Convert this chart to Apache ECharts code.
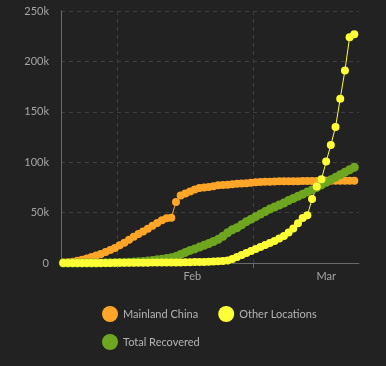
<!DOCTYPE html>
<html>
<head>
<meta charset="utf-8">
<script src="https://cdn.jsdelivr.net/npm/echarts@6/dist/echarts.min.js"></script>
<style>
  html, body { margin: 0; padding: 0; background: #222222; }
  #chart { width: 386px; height: 366px; }
</style>
</head>
<body>
<div id="chart"></div>
<script>
// Days (values plotted at noon of each day)
const days = [
  '2020-01-20','2020-01-21','2020-01-22','2020-01-23','2020-01-24','2020-01-25','2020-01-26','2020-01-27','2020-01-28','2020-01-29','2020-01-30','2020-01-31',
  '2020-02-01','2020-02-02','2020-02-03','2020-02-04','2020-02-05','2020-02-06','2020-02-07','2020-02-08','2020-02-09','2020-02-10',
  '2020-02-11','2020-02-12','2020-02-13','2020-02-14','2020-02-15','2020-02-16','2020-02-17','2020-02-18','2020-02-19','2020-02-20',
  '2020-02-21','2020-02-22','2020-02-23','2020-02-24','2020-02-25','2020-02-26','2020-02-27','2020-02-28','2020-02-29',
  '2020-03-01','2020-03-02','2020-03-03','2020-03-04','2020-03-05','2020-03-06','2020-03-07','2020-03-08','2020-03-09','2020-03-10',
  '2020-03-11','2020-03-12','2020-03-13','2020-03-14','2020-03-15','2020-03-16','2020-03-17','2020-03-18','2020-03-19','2020-03-20',
  '2020-03-21','2020-03-22'
];

const mainlandChina = [
  400, 800, 1300, 2200, 3200, 4500, 6000, 7500, 9000, 10800, 12800, 15000,
  17500, 20000, 23000, 26000, 28800, 31300, 34000, 37000, 39700, 42300, 44300, 45000, 60500,
  67000, 69000, 71000, 73000, 74500, 75000, 75500, 76200, 77200, 77400, 77700, 78100, 78500, 78900, 79200, 79600,
  80200, 80400, 80500, 80700, 80900, 81000, 81100, 81100, 81200, 81200, 81300,
  81300, 81300, 81400, 81400, 81500, 81500, 81500, 81600, 81600, 81700, 81700
];

const otherLocations = [
  0, 0, 0, 0, 0, 50, 50, 50, 100, 100, 100, 150,
  150, 200, 200, 200, 300, 300, 300, 400, 400, 400, 500, 500, 500,
  600, 700, 800, 900, 1000, 1100, 1300, 1500, 1800, 2100,
  2600, 4000, 6000, 8000, 10000, 12000,
  14000, 15800, 17800, 19800, 21800, 24200, 26800, 30200, 34200, 39500,
  44700, 47300, 63500, 76000, 83000, 100600, 117000, 135000, 163000, 191000,
  224000, 227000
];

const totalRecovered = [
  0, 0, 0, 0, 0, 0, 50, 50, 100, 150, 200, 250,
  500, 600, 800, 1000, 1300, 1600, 2100, 2600, 3200, 3800, 4500, 5200, 6400,
  8500, 10500, 12500, 14000, 15800, 17500, 19300, 21300, 23500, 26500,
  30000, 33000, 35000, 38000, 41000, 43500,
  46000, 48500, 51000, 53500, 55500, 57500, 59500, 62000, 64000, 66200,
  68300, 70500, 72500, 75000, 77500, 80000, 82500, 85000, 87500, 90000,
  92500, 95000
];

// Axis ticks / labels
const monthStarts = ['2020-02-01T00:00:00Z', '2020-03-01T00:00:00Z'];
const monthLabelDates = ['2020-02-17T00:00:00Z', '2020-03-16T12:00:00Z'];
const monthLabels = ['Feb', 'Mar'];
const yTickValues = [0, 50000, 100000, 150000, 200000, 250000];
const yTickLabels = ['0', '50k', '100k', '150k', '200k', '250k'];

const axisStart = '2020-01-20T00:00:00Z';
const axisEnd = '2020-03-23T12:00:00Z';

// x positions are measured in days from axisStart
const DAY = 86400000;
const dayPos = s => (new Date(s).getTime() - new Date(axisStart).getTime()) / DAY;
const pts = vals => days.map((d, i) => [dayPos(d + 'T12:00:00Z'), vals[i]]);
const tickPos = monthStarts.map(dayPos);
const labelPos = monthLabelDates.map(dayPos);

const C_ORANGE = '#ffa629';
const C_YELLOW = '#ffff36';
const C_GREEN = '#6ea71f';
const FONT = 'Lato';

const chart = echarts.init(document.getElementById('chart'), null, { renderer: 'canvas' });

function lineSeries(name, vals, color, size) {
  return {
    name: name,
    type: 'line',
    data: pts(vals),
    symbol: 'circle',
    symbolSize: size,
    showSymbol: true,
    showAllSymbol: true,
    lineStyle: { color: color, width: 1 },
    itemStyle: { color: color, borderWidth: 0 },
    emphasis: { disabled: true },
    animation: false
  };
}

chart.setOption({
  backgroundColor: '#222222',
  animation: false,
  textStyle: { fontFamily: FONT },
  grid: { left: 61, right: 27, top: 11, bottom: 103, containLabel: false },
  legend: [
    {
      data: ['Mainland China', 'Other Locations'],
      left: 102, top: 306, padding: 0,
      orient: 'horizontal',
      icon: 'circle', itemWidth: 16, itemHeight: 16, itemGap: 20,
      textStyle: { color: '#b4b4b4', fontSize: 11, fontFamily: FONT },
      selectedMode: false
    },
    {
      data: ['Total Recovered'],
      left: 102, top: 334, padding: 0,
      orient: 'horizontal',
      icon: 'circle', itemWidth: 16, itemHeight: 16,
      textStyle: { color: '#b4b4b4', fontSize: 11, fontFamily: FONT },
      selectedMode: false
    }
  ],
  xAxis: {
    type: 'value',
    min: 0,
    max: dayPos(axisEnd),
    axisLine: { show: true, onZero: false, lineStyle: { color: '#6a6a6a', width: 1 } },
    axisTick: {
      show: true, length: 5, inside: false,
      customValues: tickPos,
      lineStyle: { color: '#6a6a6a' }
    },
    splitLine: {
      show: true,
      lineStyle: { color: '#3e3e3e', type: [4, 4], width: 1 }
    },
    axisLabel: {
      customValues: labelPos,
      formatter: v => {
        const i = labelPos.indexOf(v);
        return i >= 0 ? monthLabels[i] : '';
      },
      color: '#a5a5a5', fontSize: 11, fontFamily: FONT, margin: 8
    }
  },
  yAxis: {
    type: 'value',
    min: 0, max: 250000, interval: 50000,
    axisLine: { show: true, lineStyle: { color: '#6a6a6a', width: 1 } },
    axisTick: { show: false },
    splitLine: { show: true, lineStyle: { color: '#3e3e3e', type: [4, 4], width: 1 } },
    axisLabel: {
      formatter: v => {
        const i = yTickValues.indexOf(v);
        return i >= 0 ? yTickLabels[i] : '';
      },
      color: '#a5a5a5', fontSize: 11, fontFamily: FONT, margin: 12
    }
  },
  series: [
    lineSeries('Mainland China', mainlandChina, C_ORANGE, 8),
    lineSeries('Total Recovered', totalRecovered, C_GREEN, 9),
    lineSeries('Other Locations', otherLocations, C_YELLOW, 8)
  ]
});
</script>
</body>
</html>
